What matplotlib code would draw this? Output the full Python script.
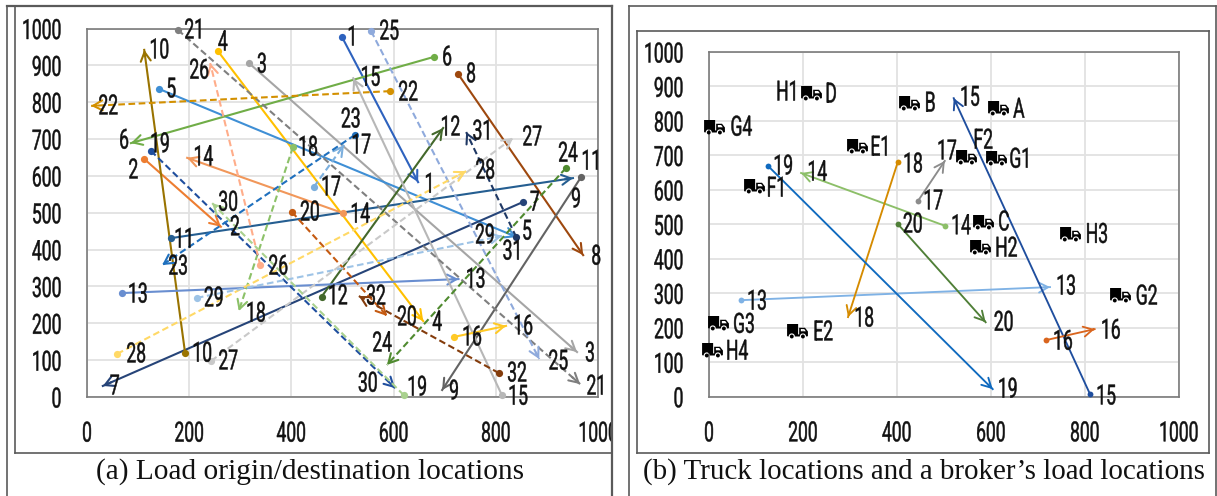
import numpy as np
import matplotlib
matplotlib.use("Agg")
import matplotlib.pyplot as plt
from matplotlib.lines import Line2D
from matplotlib.patches import Rectangle
from matplotlib.path import Path
from matplotlib.patheffects import AbstractPathEffect
from matplotlib.transforms import Affine2D

# =========================================================
# data, (a) all loads
# =========================================================

load_ids = list(range(1, 33))

origin_x = [499, 112, 317, 256, 141, 679, 853, 726, 967, 192, 164, 459, 68, 501, 812, 718,
            444, 403, 125, 401, 178, 593, 524, 937, 556, 339, 243, 59, 215, 620, 840, 806]
origin_y = [977, 646, 906, 939, 836, 923, 529, 877, 597, 119, 431, 272, 282, 499, 5, 163,
            570, 678, 668, 502, 996, 830, 711, 621, 993, 358, 98, 117, 269, 5, 434, 65]
dest_x = [648, 262, 959, 658, 841, 86, 31, 971, 695, 112, 951, 697, 727, 196, 521, 820,
          503, 297, 603, 587, 965, 8, 147, 587, 885, 241, 834, 742, 812, 245, 742, 532]
dest_y = [583, 462, 122, 206, 434, 689, 30, 385, 19, 942, 594, 730, 320, 649, 865, 193,
          684, 233, 24, 220, 35, 790, 358, 87, 103, 906, 703, 613, 437, 526, 719, 274]

colors_a = ["#2E62BE", "#ED7D31", "#A5A5A5", "#FFC000", "#3F8FD5", "#70AD47", "#264478", "#9E480E",
            "#636363", "#997300", "#255E91", "#43682B", "#698ED0", "#F1975A", "#B7B7B7", "#FFC926",
            "#7CAFDD", "#8CC168", "#1F4E9E", "#C55A11", "#7F7F7F", "#D39000", "#1F70BE", "#4F8A2F",
            "#8FAADC", "#FFAD8A", "#C9C9C9", "#FFD966", "#9DC3E6", "#A9D18E", "#1F3864", "#843C0C"]

# =========================================================
# data, (b) trucks and the broker's loads
# =========================================================

truck_names = ["D", "B", "A", "G4", "E1", "F2", "G1", "F1", "C", "H2", "H3", "G2", "G3", "E2", "H4"]
truck_x = [217, 426, 615, 11, 315, 547, 611, 96, 583, 577, 768, 874, 19, 187, 6]
truck_y = [881, 852, 837, 782, 727, 695, 692, 611, 507, 434, 471, 295, 213, 191, 135]

broker_ids = [13, 14, 15, 16, 17, 18, 19, 20]
broker_ox = [68, 502, 811, 717, 445, 402, 126, 402]
broker_oy = [280, 496, 8, 164, 568, 681, 669, 501]
broker_dx = [726, 196, 521, 821, 502, 296, 604, 589]
broker_dy = [318, 649, 866, 196, 684, 231, 22, 216]
colors_b = ["#7FB2E5", "#8CBF68", "#1F4E9E", "#D9651E", "#8C8C8C", "#D58B00", "#0F6ABF", "#4F7F37"]

# =========================================================
# layout, label offsets in pixels (right, down) from the mark
# =========================================================

off_origin_a = [(11, 1), (-11, 12), (13, 2), (5, -8), (12, 1), (13, 1), (12, 1), (13, 1),
                (-5, 23), (17, 1), (14, 2), (16, 0), (16, 2), (17, 2), (16, 2), (18, 1),
                (17, 1), (15, 1), (9, -6), (18, 1), (17, 1), (18, 2), (-4, -15), (2, -14),
                (18, 1), (18, 2), (17, 1), (19, 1), (17, 1), (-36, -11), (-3, 15), (18, 1)]
off_dest_a = [(12, 3), (14, 1), (13, 2), (14, 2), (10, -5), (-7, -2), (12, 1), (13, 2),
              (12, 2), (15, 1), (19, -16), (7, 0), (17, 1), (16, 0), (17, 0), (17, 1),
              (17, 1), (17, 3), (22, 0), (20, 2), (17, 3), (17, 1), (16, 2), (-5, -21),
              (19, 3), (-11, 8), (19, 0), (19, 0), (-17, 0), (16, 0), (17, 0), (17, 1)]

off_truck = [(20, 2), (21, 1), (21, 2), (27, 1), (24, 2), (17, -16), (25, 2), (23, 3),
             (21, 1), (26, 2), (27, 1), (27, 2), (26, 2), (26, 2), (25, 2)]

off_origin_b = [(16, 2), (16, 1), (16, 3), (17, 2), (15, 1), (15, 3), (15, 1), (15, 1)]
off_dest_b = [(16, 0), (16, 0), (16, 0), (16, 2), (2, -9), (16, 2), (15, 1), (18, 1)]

W, H = 1217, 496
NUM_FONT = ["Roboto", "DejaVu Sans"]
NUM_SIZE = 20
SERIF = ["Liberation Serif", "DejaVu Serif"]
GRID = "#E2E2E2"
SPINE = "#7A7A7A"
FRAME = "#5A5A5A"

# =========================================================
# condensed look, no narrow face is installed
# =========================================================

class Squeeze(AbstractPathEffect):

    def __init__(self, sx=0.63, anchor="center"):
        super().__init__()
        self.sx = sx
        self.anchor = anchor

    def draw_path(self, renderer, gc, tpath, affine, rgbFace=None):
        box = tpath.get_extents(affine)
        cx = box.x1 if self.anchor == "right" else 0.5*(box.x0 + box.x1)
        aff = affine + Affine2D().translate(-cx, 0).scale(self.sx, 1).translate(cx, 0)
        gc0 = renderer.new_gc()
        gc0.copy_properties(gc)
        gc0.set_linewidth(0.35)
        gc0.set_foreground(rgbFace)
        renderer.draw_path(gc0, tpath, aff, rgbFace)
        gc0.restore()

# =========================================================
# truck marker
# =========================================================

def arc(cx, cy, r, a, b, n=10):
    t = np.linspace(a, b, n)
    return list(zip(cx + r*np.cos(t), cy + r*np.sin(t)))

def poly_codes(n):
    return [Path.MOVETO] + [Path.LINETO]*(n-2) + [Path.CLOSEPOLY]

def truck_path():
    w1, w2, wy = -0.55, 0.52, -0.48
    outline = [(-1, -0.45)]
    outline += arc(w1, wy, 0.3, np.pi, 0)
    outline += arc(w2, wy, 0.3, np.pi, 0)
    outline += [(1, -0.45), (1, 0.0), (0.72, 0.36), (0.16, 0.36), (0.16, -0.28),
                (0.06, -0.28), (0.06, 0.72), (-1, 0.72), (-1, -0.45)]
    window = [(0.32, 0.02), (0.32, 0.24), (0.64, 0.24), (0.8, 0.02), (0.32, 0.02)]
    wheel1 = arc(w1, wy, 0.19, 0, 2*np.pi, 14)
    wheel2 = arc(w2, wy, 0.19, 0, 2*np.pi, 14)
    verts, codes = [], []
    for part in (outline, window, wheel1, wheel2):
        verts += part
        codes += poly_codes(len(part))
    return Path(verts, codes)

TRUCK = truck_path()

# =========================================================
# helpers
# =========================================================

def make_axes(fig, l, r, t, b):
    ax = fig.add_axes([l/W, 1 - b/H, (r-l)/W, (b-t)/H])
    ax.set_xlim(0, 1000)
    ax.set_ylim(0, 1000)
    ax.set_xticks(range(0, 1001, 200))
    ax.set_yticks(range(0, 1001, 100))
    ax.grid(True, color=GRID, lw=1.3)
    ax.set_axisbelow(True)
    ax.tick_params(length=0, labelsize=NUM_SIZE, labelcolor="#111111")
    ax.tick_params(axis="x", pad=17)
    ax.tick_params(axis="y", pad=18)
    for lab in ax.get_xticklabels():
        lab.set_family(NUM_FONT)
        lab.set_path_effects([Squeeze()])
    for lab in ax.get_yticklabels():
        lab.set_family(NUM_FONT)
        lab.set_path_effects([Squeeze(anchor="right")])
    for s in ax.spines.values():
        s.set_color(SPINE)
        s.set_linewidth(1.2)
    return ax

def label(ax, text, x, y, off):
    t = ax.annotate(str(text), (x, y), xytext=(off[0]*0.72, -off[1]*0.72), textcoords="offset points",
                    ha="center", va="center", fontsize=NUM_SIZE, family=NUM_FONT, color="#111111",
                    zorder=10)
    t.set_path_effects([Squeeze()])

def draw_load(ax, ox, oy, dx, dy, color, dashed, lw, ms):
    ls = (0, (3.2, 1.7)) if dashed else "-"
    ax.plot([ox, dx], [oy, dy], color=color, lw=lw, ls=ls, clip_on=False, zorder=3,
            dash_capstyle="butt")
    ax.plot([ox], [oy], "o", color=color, ms=ms, mew=0, clip_on=False, zorder=3)
    # head is drawn solid even on dashed lines
    sx = dx - 0.02*(dx-ox)
    sy = dy - 0.02*(dy-oy)
    ax.annotate("", (dx, dy), xytext=(sx, sy), zorder=3,
                arrowprops=dict(arrowstyle="->,head_length=0.55,head_width=0.3", color=color,
                                lw=lw, shrinkA=0, shrinkB=0, mutation_scale=12))

def hline(fig, x0, x1, y, lw=1.2):
    fig.add_artist(Line2D([x0/W, x1/W], [1 - y/H, 1 - y/H], color=FRAME, lw=lw,
                          transform=fig.transFigure, zorder=5))

def vline(fig, x, y0, y1, lw=1.2):
    fig.add_artist(Line2D([x/W, x/W], [1 - y0/H, 1 - y1/H], color=FRAME, lw=lw,
                          transform=fig.transFigure, zorder=5))

# =========================================================
# figure
# =========================================================

fig = plt.figure(figsize=(W/100, H/100), dpi=100)

# (a)
ax_a = make_axes(fig, 87, 598, 28.5, 397)
for i in range(len(load_ids)):
    draw_load(ax_a, origin_x[i], origin_y[i], dest_x[i], dest_y[i], colors_a[i], i >= 16, 1.5, 5.2)
for i, n in enumerate(load_ids):
    label(ax_a, n, origin_x[i], origin_y[i], off_origin_a[i])
    label(ax_a, n, dest_x[i], dest_y[i], off_dest_a[i])

# (b)
ax_b = make_axes(fig, 709, 1178.7, 52, 396.7)
for i in range(len(broker_ids)):
    draw_load(ax_b, broker_ox[i], broker_oy[i], broker_dx[i], broker_dy[i], colors_b[i], False, 1.35, 4.2)
for i, n in enumerate(broker_ids):
    label(ax_b, n, broker_ox[i], broker_oy[i], off_origin_b[i])
    label(ax_b, n, broker_dx[i], broker_dy[i], off_dest_b[i])

ax_b.plot(truck_x, truck_y, ls="none", marker=TRUCK, ms=15, color="black", mew=0, clip_on=False, zorder=5)
for i, name in enumerate(truck_names):
    label(ax_b, name, truck_x[i], truck_y[i], off_truck[i])
label(ax_b, "H1", truck_x[0], truck_y[0], (-23, 0))

# captions
fig.text(310/W, 1 - 472/H, "(a) Load origin/destination locations", ha="center", va="center",
         family=SERIF, fontsize=21.2, color="#111111")
fig.text(924/W, 1 - 472/H, "(b) Truck locations and a broker\u2019s load locations", ha="center", va="center",
         family=SERIF, fontsize=20.9, color="#111111")

# the "1000" of panel (a) runs into the page gutter and is cut there
fig.add_artist(Rectangle((612.5/W, 1 - 460/H), 15/W, 60/H, transform=fig.transFigure,
                         facecolor="white", edgecolor="none", zorder=4))

# page frames around the two panels
hline(fig, 7, 612, 6, 1.6)
vline(fig, 7, 6, 496)
vline(fig, 15, 6, 453)
hline(fig, 15, 612, 453)
vline(fig, 612, 6, 496, 1.6)

hline(fig, 629, 1216, 6)
vline(fig, 629, 6, 496)
vline(fig, 1216, 6, 496)
hline(fig, 637, 1209, 31)
hline(fig, 637, 1209, 453)
vline(fig, 637, 31, 453)
vline(fig, 1209, 31, 453)

fig.savefig("out.png", dpi=100)
